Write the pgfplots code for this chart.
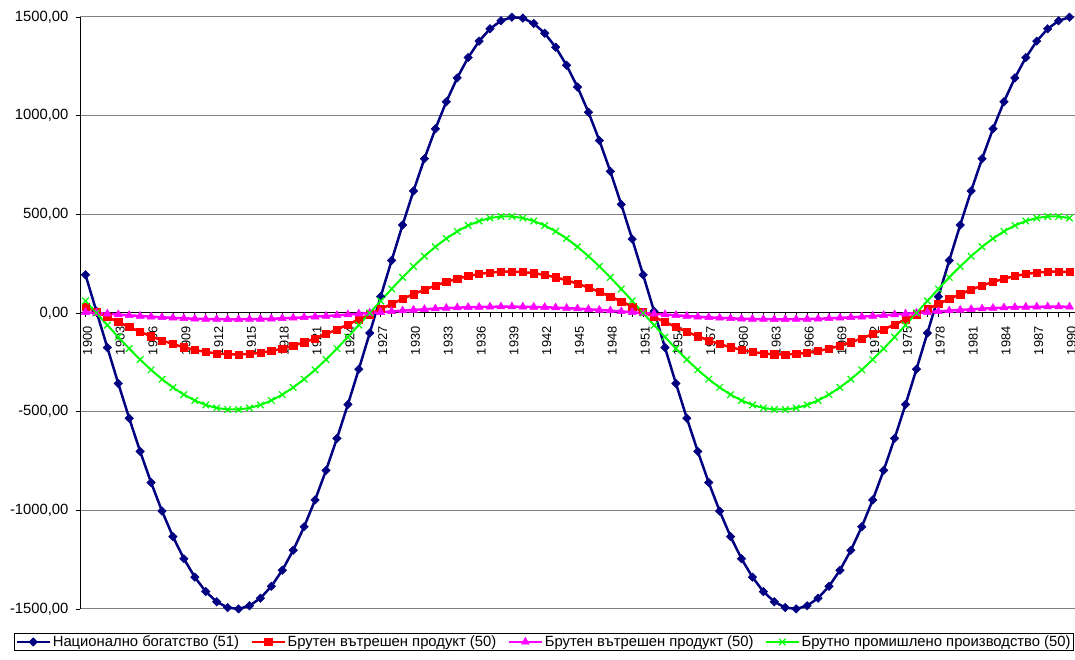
\documentclass[border=0pt]{standalone}
\usepackage{fontspec}
\setmainfont{Liberation Sans}
\usepackage{pgfplots}
\pgfplotsset{compat=1.18}
\usepackage{pgfplotstable}
\definecolor{cblue}{HTML}{000080}
\definecolor{cred}{HTML}{FF0000}
\definecolor{cmag}{HTML}{FF00FF}
\definecolor{cgreen}{HTML}{00FF00}
\pgfplotstableread{
year B R M G
1900 193.5 32.9 4.0 61.4
1901 9.2 6.6 0 0
1902 -175.2 -19.8 -4.0 -61.4
1903 -356.9 -45.8 -8.0 -121.9
1904 -533.2 -71.1 -11.8 -180.4
1905 -701.5 -95.3 -15.4 -236.1
1906 -859.1 -118.0 -18.8 -288.0
1907 -1003.7 -138.9 -21.9 -335.4
1908 -1133.1 -157.5 -24.7 -377.5
1909 -1245.3 -173.7 -27.0 -413.7
1910 -1338.6 -187.1 -29.0 -443.4
1911 -1411.7 -197.6 -30.4 -466.0
1912 -1463.3 -204.9 -31.4 -481.3
1913 -1492.7 -209.1 -31.9 -489.0
1914 -1499.5 -209.9 -31.9 -489.0
1915 -1483.6 -207.4 -31.4 -481.3
1916 -1445.2 -201.7 -30.4 -466.0
1917 -1385.0 -192.7 -29.0 -443.4
1918 -1303.6 -180.8 -27.0 -413.7
1919 -1202.4 -165.9 -24.7 -377.5
1920 -1083.2 -148.5 -21.9 -335.4
1921 -947.5 -128.7 -18.8 -288.0
1922 -797.5 -106.9 -15.4 -236.1
1923 -635.3 -83.4 -11.8 -180.4
1924 -463.5 -58.6 -8.0 -121.9
1925 -284.7 -32.9 -4.0 -61.4
1926 -101.6 -6.6 0 0
1927 83.1 19.8 4.0 61.4
1928 266.5 45.8 8.0 121.9
1929 445.9 71.1 11.8 180.4
1930 618.6 95.3 15.4 236.1
1931 781.8 118.0 18.8 288.0
1932 933.2 138.9 21.9 335.4
1933 1070.4 157.5 24.7 377.5
1934 1191.3 173.7 27.0 413.7
1935 1294.4 187.1 29.0 443.4
1936 1377.7 197.6 30.4 466.0
1937 1440.1 204.9 31.4 481.3
1938 1480.8 209.1 31.9 489.0
1939 1499.0 209.9 31.9 489.0
1940 1494.4 207.4 31.4 481.3
1941 1467.2 201.7 30.4 466.0
1942 1417.8 192.7 29.0 443.4
1943 1346.8 180.8 27.0 413.7
1944 1255.4 165.9 24.7 377.5
1945 1145.1 148.5 21.9 335.4
1946 1017.4 128.7 18.8 288.0
1947 874.2 106.9 15.4 236.1
1948 717.8 83.4 11.8 180.4
1949 550.5 58.6 8.0 121.9
1950 374.8 32.9 4.0 61.4
1951 193.5 6.6 0 0
1952 9.2 -19.8 -4.0 -61.4
1953 -175.2 -45.8 -8.0 -121.9
1954 -356.9 -71.1 -11.8 -180.4
1955 -533.2 -95.3 -15.4 -236.1
1956 -701.5 -118.0 -18.8 -288.0
1957 -859.1 -138.9 -21.9 -335.4
1958 -1003.7 -157.5 -24.7 -377.5
1959 -1133.1 -173.7 -27.0 -413.7
1960 -1245.3 -187.1 -29.0 -443.4
1961 -1338.6 -197.6 -30.4 -466.0
1962 -1411.7 -204.9 -31.4 -481.3
1963 -1463.3 -209.1 -31.9 -489.0
1964 -1492.7 -209.9 -31.9 -489.0
1965 -1499.5 -207.4 -31.4 -481.3
1966 -1483.6 -201.7 -30.4 -466.0
1967 -1445.2 -192.7 -29.0 -443.4
1968 -1385.0 -180.8 -27.0 -413.7
1969 -1303.6 -165.9 -24.7 -377.5
1970 -1202.4 -148.5 -21.9 -335.4
1971 -1083.2 -128.7 -18.8 -288.0
1972 -947.5 -106.9 -15.4 -236.1
1973 -797.5 -83.4 -11.8 -180.4
1974 -635.3 -58.6 -8.0 -121.9
1975 -463.5 -32.9 -4.0 -61.4
1976 -284.7 -6.6 0 0
1977 -101.6 19.8 4.0 61.4
1978 83.1 45.8 8.0 121.9
1979 266.5 71.1 11.8 180.4
1980 445.9 95.3 15.4 236.1
1981 618.6 118.0 18.8 288.0
1982 781.8 138.9 21.9 335.4
1983 933.2 157.5 24.7 377.5
1984 1070.4 173.7 27.0 413.7
1985 1191.3 187.1 29.0 443.4
1986 1294.4 197.6 30.4 466.0
1987 1377.7 204.9 31.4 481.3
1988 1440.1 209.1 31.9 489.0
1989 1480.8 209.9 31.9 489.0
1990 1499.0 207.4 31.4 481.3
}\data

\begin{document}
\begin{tikzpicture}
\begin{axis}[
  at={(80pt,51pt)}, anchor=south west,
  width=995pt, height=592pt, scale only axis,
  xmin=1899.5, xmax=1990.5, ymin=-1500, ymax=1500,
  axis x line=middle, axis y line=left,
  axis line style={-, black, line width=1pt},
  hide obscured x ticks=false, hide obscured y ticks=false,
  clip=false,
  ytick={-1500,-1000,-500,0,500,1000,1500},
  yticklabels={{-1500,00},{-1000,00},{-500,00},{0,00},{500,00},{1000,00},{1500,00}},
  xtick={1900,1903,1906,1909,1912,1915,1918,1921,1924,1927,1930,1933,1936,1939,1942,1945,1948,1951,1954,1957,1960,1963,1966,1969,1972,1975,1978,1981,1984,1987,1990},
  xticklabels={1900,1903,1906,1909,1912,1915,1918,1921,1924,1927,1930,1933,1936,1939,1942,1945,1948,1951,1954,1957,1960,1963,1966,1969,1972,1975,1978,1981,1984,1987,1990},
  minor xtick={1900,1901,...,1990},
  tick align=outside,
  major tick length=4pt, minor tick length=4pt,
  tick style={black, line width=0.8pt},
  ymajorgrids, grid style={color=black!50, line width=1pt},
  yticklabel style={font=\fontsize{14.8}{16}\selectfont, anchor=east, xshift=-4pt},
  xticklabel style={font=\fontsize{12.8}{14}\selectfont, rotate=90, anchor=east, xshift=-6pt, yshift=-2pt},
  legend columns=4,
  legend style={at={(-0.0663,-0.0405)}, anchor=north west, draw=black, line width=1pt,
    font=\fontsize{14.8}{16}\selectfont, inner xsep=1pt, inner ysep=0.5pt,
    /tikz/every even column/.append style={column sep=9.5pt},
    nodes={inner sep=1.8pt}},
  legend image code/.code={\draw[mark repeat=2,mark phase=2] plot coordinates {(0pt,0pt) (16.5pt,0pt) (33pt,0pt)};},
]
\addplot[cblue, line width=2.5pt, mark=square*, mark size=3pt, mark options={rotate=45, line width=0.5pt}] table[x=year,y=B]{\data};
\addlegendentry{Национално богатство (51)}
\addplot[cred, line width=2.5pt, mark=square*, mark size=3.6pt, mark options={line width=0.5pt}] table[x=year,y=R]{\data};
\addlegendentry{Брутен вътрешен продукт (50)}
\addplot[cmag, line width=2.5pt, mark=triangle*, mark size=4.6pt, mark options={line width=0.5pt}] table[x=year,y=M]{\data};
\addlegendentry{Брутен вътрешен продукт (50)}
\addplot[cgreen, line width=2pt, mark=x, mark size=4.6pt, mark options={line width=1.2pt}] table[x=year,y=G]{\data};
\addlegendentry{Брутно промишлено производство (50)}
\end{axis}
\pgfresetboundingbox
\useasboundingbox (0,0) rectangle (1075pt,660pt);
\end{tikzpicture}
\end{document}
